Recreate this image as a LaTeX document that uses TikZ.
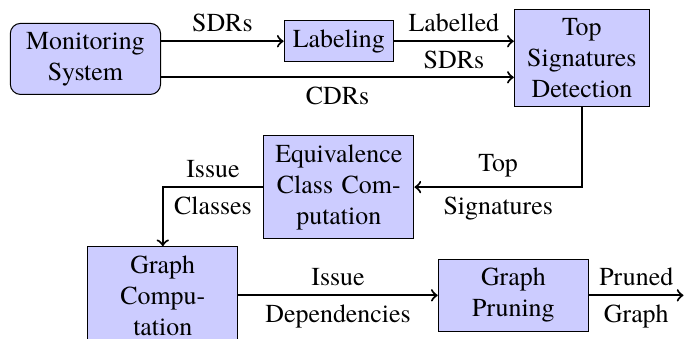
\documentclass[tikz,border=0pt]{standalone}
\usepackage{fontspec}
\setmainfont{TeX Gyre Termes}
\usetikzlibrary{calc}

\begin{document}
\begin{tikzpicture}
\tikzstyle{block}=[draw, fill=blue!20, rectangle, align=center, text width=1.75cm, minimum width=2.04cm]
\tikzstyle{flow}=[->, thick]

\useasboundingbox (0,0) rectangle (9.49,-4.60);

\node (monitor) at (1.16,-0.80) [block, rounded corners=4pt] {Monitoring System};
\node (label) at (4.60,-0.56) [draw, fill=blue!20, rectangle] {Labeling};
\node (topsig) at (7.90,-0.79) [block, text width=1.6cm, minimum width=0cm] {Top Signatures Detection};
\node (equiv) at (4.60,-2.54) [block] {Equivalence Class Computation};
\node (graph) at (2.21,-4.01) [block] {Graph Computation};
\node (prune) at (6.97,-4.01) [block] {Graph Pruning};

\coordinate (cdr) at ($(monitor.east)+(0,-0.25)$);
\coordinate (out) at (9.28,-4.01);

\draw[flow] (monitor.east |- label) -- (label) node [pos=0.5, above] {SDRs};
\draw[flow] (label) -- (label -| topsig.west) node [pos=0.5, above] {Labelled} node [pos=0.5, below] {SDRs};
\draw[flow] (cdr) -- (cdr -| topsig.west) node [pos=0.5, below] {CDRs};
\draw[flow] (topsig.south) |- (equiv.east) node [pos=0.75, above] {Top} node [pos=0.75, below] {Signatures};
\draw[flow] (equiv.west) -| (graph.north) node [pos=0.25, above] {Issue} node [pos=0.25, below] {Classes};
\draw[flow] (graph) -- (prune) node [pos=0.5, above] {Issue} node [pos=0.5, below] {Dependencies};
\draw[flow] (prune) -- (out) node [pos=0.5, above] {Pruned} node [pos=0.5, below] {Graph};

\end{tikzpicture}
\end{document}
